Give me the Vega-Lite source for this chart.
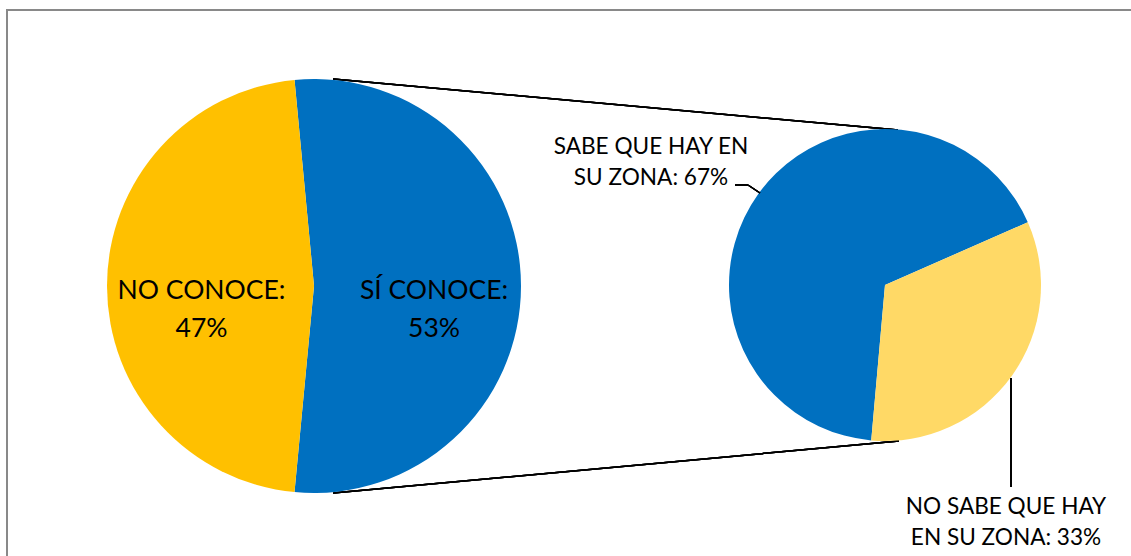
{
  "$schema": "https://vega.github.io/schema/vega-lite/v6.json",
  "width": 1131,
  "height": 556,
  "autosize": {"type": "none"},
  "padding": 0,
  "background": "white",
  "config": {"view": {"stroke": null}},
  "data": {
    "values": [
      {"pie": "left", "cat": "SÍ CONOCE", "value": 53, "ord": 1, "label": "SÍ CONOCE:\n53%"},
      {"pie": "left", "cat": "NO CONOCE", "value": 47, "ord": 2, "label": "NO CONOCE:\n47%"},
      {"pie": "right", "cat": "SABE QUE HAY EN SU ZONA", "value": 67, "ord": 1, "label": "SABE QUE HAY EN\nSU ZONA: 67%"},
      {"pie": "right", "cat": "NO SABE QUE HAY EN SU ZONA", "value": 33, "ord": 2, "label": "NO SABE QUE HAY\nEN SU ZONA: 33%"}
    ]
  },
  "layer": [
    {
      "mark": {"type": "rule", "stroke": "#898989", "strokeWidth": 2},
      "encoding": {
        "x": {"datum": 7, "type": "quantitative", "scale": {"domain": [0, 1131], "nice": false, "zero": false}, "axis": null},
        "y": {"datum": 10, "type": "quantitative", "scale": {"domain": [0, 556], "nice": false, "zero": false, "reverse": true}, "axis": null},
        "x2": {"datum": 1131},
        "y2": {"datum": 10}
      }
    },
    {
      "mark": {"type": "rule", "stroke": "#898989", "strokeWidth": 2},
      "encoding": {
        "x": {"datum": 7, "type": "quantitative"},
        "y": {"datum": 9, "type": "quantitative"},
        "x2": {"datum": 7},
        "y2": {"datum": 556}
      }
    },
    {
      "mark": {"type": "rule", "stroke": "black", "strokeWidth": 1.5},
      "encoding": {
        "x": {"datum": 333, "type": "quantitative"},
        "y": {"datum": 79, "type": "quantitative"},
        "x2": {"datum": 898},
        "y2": {"datum": 130}
      }
    },
    {
      "mark": {"type": "rule", "stroke": "black", "strokeWidth": 1.5},
      "encoding": {
        "x": {"datum": 333, "type": "quantitative"},
        "y": {"datum": 493, "type": "quantitative"},
        "x2": {"datum": 899},
        "y2": {"datum": 441}
      }
    },
    {
      "transform": [{"filter": "datum.pie === 'left'"}],
      "mark": {"type": "arc", "radius": 207},
      "encoding": {
        "x": {"datum": 314, "type": "quantitative"},
        "y": {"datum": 286, "type": "quantitative"},
        "theta": {"field": "value", "type": "quantitative", "stack": true, "scale": {"range": [-0.0942, 6.1890]}},
        "order": {"field": "ord", "type": "quantitative"},
        "color": {
          "field": "cat", "type": "nominal", "legend": null,
          "scale": {
            "domain": ["SÍ CONOCE", "NO CONOCE", "SABE QUE HAY EN SU ZONA", "NO SABE QUE HAY EN SU ZONA"],
            "range": ["#0070C0", "#FFC000", "#0070C0", "#FFD966"]
          }
        }
      }
    },
    {
      "transform": [{"filter": "datum.pie === 'right'"}],
      "mark": {"type": "arc", "radius": 156},
      "encoding": {
        "x": {"datum": 885, "type": "quantitative"},
        "y": {"datum": 285, "type": "quantitative"},
        "theta": {"field": "value", "type": "quantitative", "stack": true, "scale": {"range": [3.2300, 9.5132]}},
        "order": {"field": "ord", "type": "quantitative"},
        "color": {"field": "cat", "type": "nominal", "legend": null}
      }
    },
    {
      "mark": {"type": "rule", "stroke": "black", "strokeWidth": 1.3},
      "encoding": {
        "x": {"datum": 735, "type": "quantitative"},
        "y": {"datum": 185, "type": "quantitative"},
        "x2": {"datum": 748},
        "y2": {"datum": 185}
      }
    },
    {
      "mark": {"type": "rule", "stroke": "black", "strokeWidth": 1.3},
      "encoding": {
        "x": {"datum": 748, "type": "quantitative"},
        "y": {"datum": 185, "type": "quantitative"},
        "x2": {"datum": 760},
        "y2": {"datum": 193}
      }
    },
    {
      "mark": {"type": "rule", "stroke": "black", "strokeWidth": 1.3},
      "encoding": {
        "x": {"datum": 1011, "type": "quantitative"},
        "y": {"datum": 378, "type": "quantitative"},
        "x2": {"datum": 1011},
        "y2": {"datum": 487}
      }
    },
    {
      "transform": [{"filter": "datum.cat === 'NO CONOCE'"}],
      "mark": {"type": "text", "font": "Lato", "fontSize": 26.5, "lineHeight": 38, "lineBreak": "\n", "align": "center", "baseline": "alphabetic", "color": "black"},
      "encoding": {
        "x": {"datum": 201.5, "type": "quantitative"},
        "y": {"datum": 299, "type": "quantitative"},
        "text": {"field": "label"}
      }
    },
    {
      "transform": [{"filter": "datum.cat === 'SÍ CONOCE'"}],
      "mark": {"type": "text", "font": "Lato", "fontSize": 26.5, "lineHeight": 38, "lineBreak": "\n", "align": "center", "baseline": "alphabetic", "color": "black"},
      "encoding": {
        "x": {"datum": 434, "type": "quantitative"},
        "y": {"datum": 299, "type": "quantitative"},
        "text": {"field": "label"}
      }
    },
    {
      "transform": [{"filter": "datum.cat === 'SABE QUE HAY EN SU ZONA'"}],
      "mark": {"type": "text", "font": "Lato", "fontSize": 22.6, "lineHeight": 31, "lineBreak": "\n", "align": "center", "baseline": "alphabetic", "color": "black"},
      "encoding": {
        "x": {"datum": 651, "type": "quantitative"},
        "y": {"datum": 154, "type": "quantitative"},
        "text": {"field": "label"}
      }
    },
    {
      "transform": [{"filter": "datum.cat === 'NO SABE QUE HAY EN SU ZONA'"}],
      "mark": {"type": "text", "font": "Lato", "fontSize": 22.6, "lineHeight": 31, "lineBreak": "\n", "align": "center", "baseline": "alphabetic", "color": "black"},
      "encoding": {
        "x": {"datum": 1006, "type": "quantitative"},
        "y": {"datum": 514, "type": "quantitative"},
        "text": {"field": "label"}
      }
    }
  ],
  "resolve": {"scale": {"theta": "independent"}}
}
